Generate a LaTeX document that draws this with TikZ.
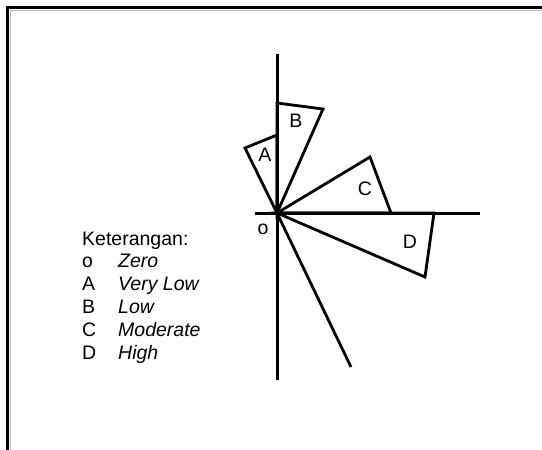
\documentclass[tikz,border=0pt]{standalone}
\usepackage{fontspec}
\setmainfont{Liberation Sans}
\usetikzlibrary{positioning}

\begin{document}
\begin{tikzpicture}[x=1pt,y=-1pt,
    axis/.style={line width=3pt},
    wedge/.style={line width=2.8pt, line join=miter},
    lbl/.style={font=\fontsize{19.5}{22}\selectfont, inner sep=0pt}]
        \useasboundingbox (0,0) rectangle (542,450);
        % frame
        \draw[line width=3pt] (7.5,455) |- (548,7.5);
        \draw[gray!50, line width=0.8pt] (10.2,455) |- (548,10.2);

        % axes
        \coordinate (O) at (277,213);
        \coordinate (ytop) at (277,54);
        \coordinate (ybot) at (277,380);
        \coordinate (xleft) at (255,213);
        \coordinate (xright) at (480,213);
        \coordinate (tail) at (351,367);
        \draw[axis] (ytop) -- (ybot);
        \draw[axis] (xleft) -- (xright);
        \draw[wedge] (O) -- (tail);

        % wedges
        \foreach \n/\p/\q/\l in {A/{277,135}/{245,148}/{265,155},
                                 B/{277,103}/{323,109}/{296,121},
                                 C/{370,157}/{391,213}/{365,189},
                                 D/{434,213}/{425,277}/{410,242}} {
          \draw[wedge] (O) -- (\p) -- (\q) -- cycle;
          \node[lbl] (lbl\n) at (\l) {\n};
        }
        \node[lbl] (lblo) at (263,229) {o};

        % legend
        \node[lbl, anchor=base west] (ket) at (82,245) {Keterangan:};
        \foreach \i/\k/\val in {0/o/Zero, 1/A/Very Low, 2/B/Low, 3/C/Moderate, 4/D/High} {
          \node[lbl, anchor=base west] (key\i) at (82,267+23*\i) {\k};
          \node[lbl, anchor=base west] (val\i) at (118,267+23*\i) {\itshape\val};
        }
      \end{tikzpicture}
\end{document}
